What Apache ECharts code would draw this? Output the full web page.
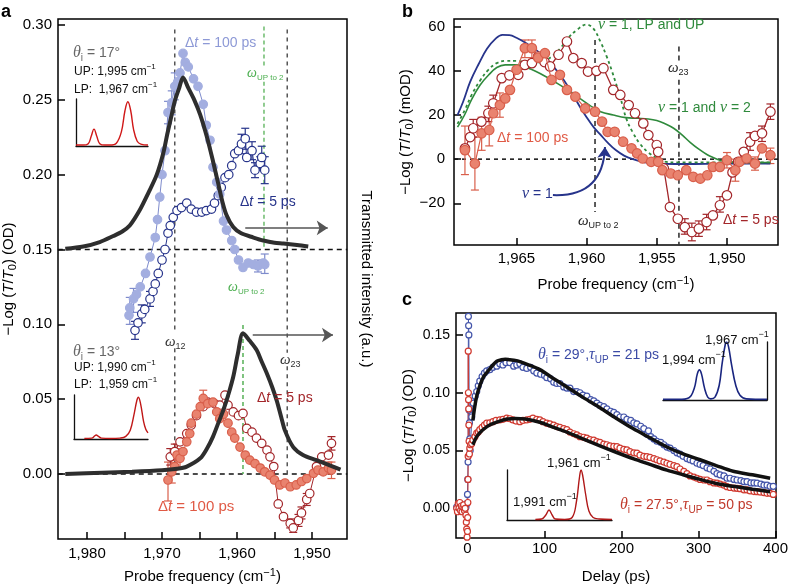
<!DOCTYPE html>
<html><head><meta charset="utf-8">
<script src="https://cdn.jsdelivr.net/npm/echarts@6/dist/echarts.min.js"></script>
<style>html,body{margin:0;padding:0;background:#fff}#c{width:788px;height:584px}</style>
</head><body><div id="c"></div><script>
const F = "'Liberation Sans', Arial, Helvetica, sans-serif";
const FS = "'Liberation Serif', 'DejaVu Serif', serif";

// ---------- Panel a data ----------
const aXTicks = [1950,1955,1960,1965,1970,1975,1980];
const aXLabels = [1950,1960,1970,1980];
const aYTicks = [0,0.05,0.10,0.15,0.20,0.25,0.30];
const aBlackTop = [[1982.9,0.1505],[1980.5,0.152],[1978.3,0.155],[1976.5,0.159],[1975.3,0.162],[1974.3,0.166],[1973,0.176],[1971.8,0.188],[1970.7,0.200],[1969.8,0.215],[1969.3,0.227],[1968.8,0.238],[1968.3,0.249],[1967.7,0.258],[1967.2,0.265],[1966.5,0.258],[1965.7,0.250],[1964.9,0.240],[1964.0,0.225],[1963.2,0.209],[1962.5,0.194],[1962.0,0.183],[1961.4,0.173],[1960.5,0.165],[1959.5,0.161],[1957.8,0.158],[1956.5,0.156],[1955,0.1545],[1953.8,0.154],[1952,0.153],[1950.5,0.152]];
const aBlackBot = [[1982.9,0.0],[1978,0.0008],[1974,0.0015],[1970,0.0025],[1968,0.0035],[1966.7,0.005],[1964.9,0.0105],[1964,0.017],[1963.2,0.025],[1962.5,0.034],[1961.8,0.043],[1961.1,0.054],[1960.5,0.065],[1959.9,0.080],[1959.2,0.094],[1958.3,0.089],[1957.4,0.083],[1956.7,0.075],[1956.0,0.067],[1955.3,0.058],[1954.7,0.049],[1954.1,0.038],[1953.6,0.029],[1952.5,0.018],[1951.2,0.0127],[1949.4,0.0093],[1947.2,0.005],[1946.2,0.003]];
const aBlue100 = [[1974.4,0.106],[1974.3,0.111],[1973.8,0.117],[1973.4,0.120],[1972.9,0.125],[1972.2,0.134],[1971.6,0.145],[1970.9,0.158],[1970.6,0.170],[1970.3,0.185],[1970.0,0.200],[1969.6,0.216],[1969.2,0.2415],[1968.7,0.248],[1968.3,0.259],[1967.9,0.262],[1967.6,0.268],[1967.2,0.281],[1966.9,0.275],[1966.5,0.272],[1965.8,0.264],[1965.2,0.259],[1964.5,0.247],[1964.1,0.233],[1963.6,0.223],[1963.2,0.205],[1962.7,0.195],[1962.3,0.187],[1961.8,0.169],[1961.4,0.163],[1960.7,0.156],[1960.3,0.150],[1959.8,0.143],[1959.2,0.138],[1958.5,0.141],[1957.8,0.140],[1957.2,0.139],[1956.5,0.141],[1956.3,0.140]];
const aBlue5 = [[1973.6,0.096],[1973.2,0.101],[1972.7,0.107],[1972.3,0.110],[1971.6,0.117],[1971.2,0.122],[1970.9,0.127],[1970.5,0.134],[1970.0,0.143],[1969.6,0.150],[1969.2,0.161],[1968.9,0.166],[1968.5,0.1715],[1968.0,0.176],[1967.4,0.178],[1966.7,0.181],[1966.1,0.177],[1965.4,0.175],[1964.7,0.175],[1964.1,0.176],[1963.4,0.177],[1963.0,0.181],[1962.5,0.186],[1962.1,0.1915],[1961.6,0.198],[1961.1,0.200],[1960.7,0.206],[1960.3,0.214],[1959.8,0.216],[1959.4,0.2205],[1958.9,0.224],[1958.7,0.2115],[1958.0,0.216],[1957.6,0.203],[1956.9,0.2075],[1956.7,0.2115],[1956.3,0.203]];
const aRed100 = [[1969.2,-0.004],[1968.7,0.0015],[1968.3,0.005],[1968.0,0.0127],[1967.6,0.0105],[1967.2,0.015],[1966.7,0.0215],[1966.3,0.027],[1966.1,0.034],[1965.4,0.040],[1964.9,0.045],[1964.5,0.0505],[1963.9,0.047],[1963.2,0.048],[1962.7,0.0415],[1962.3,0.037],[1961.8,0.040],[1961.2,0.034],[1960.7,0.028],[1960.3,0.024],[1959.6,0.018],[1958.9,0.0127],[1958.3,0.0093],[1957.6,0.007],[1956.9,0.004],[1956.3,0.0015],[1955.6,-0.0007],[1955.0,-0.004],[1954.3,-0.0073],[1953.6,-0.006],[1952.9,-0.0085],[1952.1,-0.0073],[1951.4,-0.005],[1950.7,-0.003],[1949.8,0.0005],[1949.2,0.0027],[1948.5,0.0015],[1947.8,0.004],[1947.4,0.0027]];
const aRed5 = [[1968.9,0.0115],[1968.3,0.015],[1967.6,0.0215],[1966.7,0.027],[1966.1,0.0327],[1965.4,0.039],[1964.5,0.045],[1963.9,0.048],[1963.0,0.047],[1962.3,0.046],[1961.6,0.0527],[1961.2,0.046],[1960.5,0.0415],[1959.8,0.039],[1959.2,0.0405],[1958.7,0.0305],[1958.0,0.028],[1957.4,0.024],[1956.7,0.0205],[1956.0,0.016],[1955.6,0.0115],[1955.1,0.005],[1954.5,-0.020],[1953.8,-0.0285],[1952.9,-0.033],[1952.5,-0.036],[1951.8,-0.031],[1951.4,-0.026],[1950.7,-0.017],[1950.3,-0.013],[1949.4,0.005],[1948.7,0.0115],[1947.8,0.0127],[1947.4,0.0205]];
const aBlue100Err = [[1974.3,0.100,0.118],[1973.8,0.108,0.124],[1969.2,0.234,0.249],[1968.7,0.240,0.256],[1968.3,0.250,0.268],[1957.2,0.135,0.143],[1956.3,0.134,0.147]];
const aBlue5Err = [[1973.6,0.090,0.102],[1972.7,0.101,0.113],[1971.6,0.112,0.122],[1959.4,0.214,0.227],[1958.9,0.217,0.231],[1958.0,0.210,0.222],[1957.6,0.198,0.208],[1956.9,0.203,0.212],[1956.7,0.204,0.219],[1956.3,0.194,0.212]];
const aRed100Err = [[1969.2,-0.018,0.008],[1968.7,-0.006,0.009],[1968.0,0.004,0.020],[1967.6,0.004,0.017],[1964.5,0.045,0.056],[1947.8,0.000,0.008],[1947.4,-0.003,0.008]];
const aRed5Err = [[1968.9,0.006,0.017],[1968.3,0.010,0.020],[1952.9,-0.036,-0.030],[1952.5,-0.039,-0.033],[1951.8,-0.035,-0.027],[1951.4,-0.030,-0.022],[1950.7,-0.021,-0.013],[1947.4,0.016,0.025]];
const aHLine15 = [[1983.9,0.15],[1945.3,0.15]];
const aHLine0 = [[1983.9,0],[1945.3,0]];
const aOmega12 = [[[1968.3,0.297],[1968.3,0.094]],[[1968.3,0.084],[1968.3,0]]];
const aOmega23 = [[[1953.3,0.297],[1953.3,0.081]],[[1953.3,0.072],[1953.3,0]]];
const aOmegaUPtop = [[[1956.4,0.299],[1956.4,0.271]],[[1956.4,0.262],[1956.4,0.15]]];
const aOmegaUPbot = [[[1959.2,0.0995],[1959.2,0]]];
const aArrowTop = [[1958.9,0.1644],[1947.9,0.1644]];
const aArrowBot = [[1957.9,0.0929],[1947.2,0.0929]];

// ---------- Panel b data ----------
const bXTicks = [1950,1955,1960,1965];
const bYTicks = [-20,0,20,40,60];
const bRed100 = [[1968.67,4.1],[1967.96,-2],[1967.48,11.7],[1966.94,13.2],[1966.65,20.8],[1966.18,24.5],[1965.8,27.5],[1965.46,31.4],[1964.99,40.5],[1964.4,50.3],[1963.9,50.3],[1963.45,46],[1962.97,48],[1962.5,35.9],[1961.9,38.2],[1961.4,31.4],[1960.8,28.3],[1960.1,23],[1959.4,21.5],[1958.9,17],[1958.5,12.4],[1958.0,12.4],[1957.4,7.9],[1956.8,4.9],[1956.4,2.6],[1956.0,0.3],[1955.4,-1.2],[1954.9,-1.2],[1954.6,-5],[1954.0,-6.5],[1953.5,-7.3],[1952.9,-5],[1952.4,-8],[1951.9,-8.8],[1951.4,-7.3],[1951.0,-3.5],[1950.5,-3.5],[1950.0,-0.5],[1949.4,-5],[1949.1,-1.2],[1948.6,0.3],[1948.0,-2],[1947.5,4.9],[1946.9,1.8]];
const bRed5 = [[1968.67,4.9],[1968.3,10],[1968.08,14],[1967.5,17],[1967.0,20.8],[1966.65,25.3],[1966.05,36.7],[1965.5,38],[1964.87,38.2],[1964.4,42.7],[1963.9,43.5],[1963.45,46.5],[1963.0,44],[1962.6,42],[1962.0,47.3],[1961.4,53.3],[1960.95,45.8],[1960.35,43.5],[1959.9,39.7],[1959.3,40],[1958.8,41.2],[1958.1,31.4],[1957.6,29.1],[1957.0,24.5],[1956.55,20.8],[1955.96,16.2],[1955.6,10.9],[1955.0,6.4],[1954.9,3.3],[1954.5,-4.2],[1954.06,-21.7],[1953.5,-27],[1953.0,-30.8],[1952.5,-33],[1952.0,-31.5],[1951.45,-28.5],[1951.0,-25.5],[1950.5,-20.9],[1950.0,-16.4],[1949.6,-6],[1949.2,-1.2],[1948.8,3.3],[1948.35,7.9],[1948.0,10.5],[1947.5,11.7],[1946.9,21.5]];
const bNu1 = [[1969.2,20],[1968.8,26],[1968.3,35],[1967.7,43],[1967.1,50],[1966.5,54.5],[1966.0,56.3],[1965.5,56.2],[1965.0,55],[1964.3,52.5],[1963.6,49.5],[1963.0,46],[1962.3,41.5],[1961.7,36.5],[1961.0,29.5],[1960.5,24],[1960.0,19],[1959.5,14.5],[1959.0,11],[1958.5,7.5],[1957.9,4],[1957.3,1.5],[1956.7,0],[1956.0,-1.2],[1955.25,-2],[1953,-2.2],[1950,-2],[1946.9,-2]];
const bNu12 = [[1969.2,14.5],[1968.7,20],[1968.2,27],[1967.6,33.5],[1967.0,38],[1966.4,41.5],[1965.8,42.7],[1965.0,42.7],[1964.3,41.5],[1963.6,39.7],[1962.8,37],[1962.0,34],[1961.3,31],[1960.6,28],[1959.8,24.5],[1959.0,21.5],[1958.1,20],[1957.2,18.8],[1956.4,18.5],[1955.6,18.2],[1955.0,17.5],[1954.4,16],[1953.8,14],[1953.2,11],[1952.6,7.5],[1952.0,4.5],[1951.4,2],[1950.9,0.5],[1950.5,-0.5],[1950,-1.2],[1948.5,-1.5],[1946.9,-1.5]];
const bNuLPUP = [[1969.2,16],[1968.7,22],[1968.2,29],[1967.6,35.5],[1967.0,40.5],[1966.4,43.5],[1965.8,44.5],[1965.0,44.5],[1964.3,44],[1963.6,43.8],[1963.0,44.5],[1962.4,47],[1961.9,50],[1961.3,55],[1960.7,58.5],[1960.0,61],[1959.5,59],[1959.0,53],[1958.6,47],[1958.2,40],[1957.6,28],[1957.15,18],[1956.7,12],[1956.2,7],[1955.6,3],[1955.0,0.5],[1954.5,-1],[1953.5,-1.5],[1950,-1.5],[1946.9,-1.5]];
const bRed100Err = [[1968.67,-7,15],[1967.96,-14,10],[1967.48,4,19],[1966.94,6,20],[1966.18,19,30],[1964.4,46,54],[1963.9,46,54],[1950.0,-4,3],[1949.4,-10,0],[1948.0,-5,1],[1946.9,-2,5]];
const bRed5Err = [[1968.08,10,18],[1967.0,17,24],[1966.65,21,29],[1953.0,-34,-27],[1952.5,-37,-29],[1952.0,-35,-28],[1951.45,-32,-25],[1950.5,-24,-17],[1948.35,4,12],[1947.5,8,15],[1946.9,18,25]];
const bHLine0 = [[1969.45,0],[1946.36,0]];
const bOmegaUP = [[[1959.4,54],[1959.4,-24]]];
const bOmega23 = [[[1953.42,51],[1953.42,44]],[[1953.42,36],[1953.42,-39]]];
const bArrow = [[1962.4,-16.3],[1958.69,5.5]];

// ---------- Panel c data ----------
const cXTicks = [0,100,200,300,400];
const cYTicks = [0,0.05,0.10,0.15];
const cBlue = [[-14,0.001],[-12,-0.002],[-10,0.001],[-8,0.0],[-6,0.002],[-4,-0.001],[-2,0.001],[-1,0.004],[0,0.012],[0.4,0.025],[0.8,0.04],[1.2,0.166],[1.5,0.158],[1.8,0.150],[2.2,0.085],[2.6,0.074],[3,0.060],[3.5,0.050],[4.2,0.058],[5.5,0.079],[7.5,0.091],[10,0.097],[12,0.101],[14,0.106],[16,0.110],[19,0.114],[22,0.117],[25,0.119],[29,0.120],[33,0.122],[38,0.123],[42,0.125],[46,0.124],[50,0.126],[55,0.126],[60,0.123],[64,0.124],[68,0.125],[72,0.122],[77,0.121],[82,0.122],[86,0.119],[90,0.117],[95,0.116],[100,0.115],[103,0.113],[108,0.112],[112,0.109],[116,0.108],[120,0.108],[125,0.105],[129,0.104],[133,0.104],[138,0.101],[142,0.101],[146,0.100],[150,0.098],[155,0.097],[160,0.094],[164,0.093],[168,0.091],[172,0.089],[177,0.088],[181,0.086],[186,0.084],[190,0.083],[194,0.081],[198,0.079],[203,0.079],[207,0.077],[212,0.076],[216,0.074],[220,0.073],[225,0.071],[229,0.069],[233,0.064],[235,0.067],[238,0.062],[242,0.060],[246,0.058],[251,0.057],[255,0.055],[259,0.053],[263,0.052],[268,0.050],[272,0.048],[276,0.047],[280,0.045],[285,0.043],[289,0.042],[293,0.041],[298,0.039],[302,0.038],[306,0.037],[311,0.035],[315,0.034],[320,0.032],[324,0.030],[328,0.029],[333,0.028],[337,0.026],[341,0.026],[346,0.025],[350,0.0245],[355,0.024],[359,0.023],[363,0.023],[368,0.022],[372,0.022],[376,0.0217],[381,0.021],[385,0.020],[389,0.020],[393,0.019],[397,0.019]];
const cRed = [[-14,0.0],[-13,-0.003],[-12,0.004],[-11,0.0],[-10,0.005],[-9,-0.002],[-8,0.002],[-7,-0.003],[-6,0.001],[-5,0.003],[-4,-0.002],[-3,0.0],[-2,-0.006],[-1.5,-0.012],[-1,-0.018],[-0.5,-0.025],[0,-0.02],[0.3,-0.008],[0.5,0.005],[0.7,0.025],[0.9,0.045],[1.0,0.136],[1.2,0.100],[1.4,0.094],[1.6,0.086],[1.8,0.072],[2.1,0.058],[2.5,0.047],[3,0.052],[4,0.055],[5.5,0.056],[7,0.059],[9.7,0.062],[12,0.065],[14,0.066],[16,0.068],[19,0.070],[22,0.072],[25,0.0737],[29,0.074],[33,0.075],[37,0.076],[42,0.0765],[46,0.077],[51,0.078],[55,0.0775],[59,0.0765],[63,0.0755],[68,0.075],[72,0.076],[77,0.0765],[81,0.077],[85,0.078],[90,0.077],[94,0.0765],[98,0.075],[103,0.0737],[107,0.073],[112,0.072],[116,0.0707],[120,0.070],[125,0.069],[129,0.068],[133,0.066],[138,0.0645],[142,0.0635],[146,0.062],[151,0.0615],[155,0.0607],[159,0.0595],[164,0.059],[168,0.0577],[172,0.057],[177,0.0555],[181,0.055],[185,0.054],[190,0.0535],[194,0.0534],[198,0.052],[203,0.051],[207,0.0505],[211,0.049],[216,0.048],[220,0.0477],[224,0.046],[229,0.045],[233,0.0447],[237,0.044],[242,0.043],[246,0.042],[250,0.041],[255,0.040],[259,0.039],[263,0.038],[268,0.037],[272,0.036],[276,0.034],[281,0.032],[285,0.030],[289,0.028],[294,0.027],[298,0.026],[302,0.025],[307,0.0245],[311,0.0245],[315,0.023],[320,0.022],[324,0.0217],[328,0.021],[333,0.020],[337,0.0187],[341,0.018],[346,0.0175],[350,0.0173],[354,0.017],[359,0.016],[363,0.0159],[367,0.015],[372,0.0145],[376,0.0144],[380,0.014],[385,0.0135],[389,0.013],[393,0.013],[397,0.012]];
const cFitBlue = [[7,0.076],[9,0.086],[12,0.097],[16,0.106],[21,0.114],[27,0.119],[33,0.124],[38,0.1272],[44,0.1285],[49,0.129],[55,0.1285],[62,0.128],[68,0.127],[80,0.124],[94,0.120],[110,0.113],[129,0.105],[150,0.096],[172,0.087],[193,0.078],[215,0.069],[237,0.061],[259,0.053],[280,0.047],[302,0.042],[323,0.037],[345,0.032],[370,0.029],[393,0.026]];
const cFitRed = [[7,0.055],[12,0.062],[20,0.068],[30,0.0725],[42,0.0755],[52,0.0772],[62,0.0778],[75,0.0772],[94,0.0745],[110,0.0705],[129,0.066],[150,0.060],[172,0.054],[193,0.0485],[215,0.043],[237,0.038],[259,0.033],[280,0.029],[302,0.025],[323,0.0215],[345,0.019],[370,0.0165],[393,0.0144]];

// ---------- Inset spectra (normalized) ----------
const insA1 = [[0,0.02],[10,0.02],[17,0.05],[21,0.2],[25,0.36],[29,0.2],[33,0.05],[40,0.02],[47,0.02],[56,0.06],[63,0.3],[68,0.75],[72,0.94],[76,0.75],[80,0.35],[85,0.1],[90,0.04],[100,0.02]];
const insA2 = [[14,0.01],[24,0.02],[28,0.07],[30,0.09],[33,0.06],[37,0.02],[50,0.01],[62,0.02],[70,0.06],[76,0.2],[81,0.55],[85,0.88],[87,0.95],[90,0.8],[94,0.4],[97,0.22],[100,0.14]];
const insC1 = [[0,0.01],[15,0.01],[25,0.04],[30,0.2],[33,0.45],[35,0.52],[37,0.45],[40,0.2],[43,0.05],[46,0.02],[50,0.05],[54,0.25],[57,0.65],[60,0.97],[61,1.0],[63,0.92],[66,0.6],[70,0.25],[74,0.08],[80,0.02],[100,0.01]];
const insC2 = [[27,0.01],[33,0.02],[37,0.1],[40,0.2],[43,0.1],[46,0.02],[55,0.01],[62,0.05],[66,0.35],[69,0.85],[70.5,1.0],[72,0.9],[75,0.5],[78,0.18],[82,0.05],[88,0.02],[100,0.01]];

// ---------- colours ----------
const C = {blueLF:'#a3aee0', blueLE:'#7e8bcc', blueD:'#27348b', redF:'#e9836f', redE:'#d95f4b', redD:'#a3262a',
  blk:'#2e2e2e', green:'#2f8a3c', greenL:'#55b055', gray:'#555'};

const comma = v => { const s = String(Math.round(v)); return s.length>3 ? s.slice(0,-3)+','+s.slice(-3) : s; };
const minus = v => v<0 ? '\u2212'+Math.abs(v) : String(v);

function nameStyle(size){
  return {fontSize:size, fontFamily:F, color:'#000', lineHeight:size+4, rich:{
    i:{fontSize:size, fontFamily:F, fontStyle:'italic', color:'#000'},
    sub:{fontSize:Math.round(size*0.7), fontFamily:F, color:'#000', verticalAlign:'bottom', lineHeight:Math.round(size*0.7)},
    sup:{fontSize:Math.round(size*0.7), fontFamily:F, color:'#000', verticalAlign:'top', lineHeight:Math.round(size*0.7)}
  }};
}
function xAx(gi,min,max,ticks,labels,fmt,inverse,name,gap,margin,fs){
  return {type:'value',gridIndex:gi,min,max,inverse,position:'bottom',
    axisLine:{show:false,onZero:false},splitLine:{show:false},
    axisTick:{show:true,inside:true,length:7,customValues:ticks,lineStyle:{color:'#000',width:1.5}},
    axisLabel:{show:true,customValues:labels,formatter:fmt,fontSize:fs,fontFamily:F,color:'#000',margin},
    name,nameLocation:'middle',nameGap:gap,nameTextStyle:nameStyle(15)};
}
function yAx(gi,min,max,ticks,fmt,name,gap,margin,fs){
  return {type:'value',gridIndex:gi,min,max,position:'left',
    axisLine:{show:false,onZero:false},splitLine:{show:false},
    axisTick:{show:true,inside:true,length:7,customValues:ticks,lineStyle:{color:'#000',width:1.5}},
    axisLabel:{show:true,customValues:ticks,formatter:fmt,fontSize:fs,fontFamily:F,color:'#000',margin},
    name,nameLocation:'middle',nameGap:gap,nameRotate:90,nameTextStyle:nameStyle(15)};
}
function insX(gi){return {type:'value',gridIndex:gi,min:0,max:100,position:'bottom',axisLine:{show:true,onZero:false,lineStyle:{color:'#111',width:1.3}},axisTick:{show:false},axisLabel:{show:false},splitLine:{show:false}};}
function insY(gi,pos){return {type:'value',gridIndex:gi,min:0,max:1,position:pos,offset:0,axisLine:{show:true,onZero:false,lineStyle:{color:'#111',width:1.3}},axisTick:{show:false},axisLabel:{show:false},splitLine:{show:false}};}

const series = [];
function seg(xi,yi,data,color,width,dash,z){series.push({type:'line',xAxisIndex:xi,yAxisIndex:yi,data,symbol:'none',silent:true,lineStyle:{color,width,type:dash},z:z||1});}
function curve(xi,yi,data,color,width,dash,smooth,z){series.push({type:'line',xAxisIndex:xi,yAxisIndex:yi,data,symbol:'none',smooth:smooth,silent:true,lineStyle:{color,width,type:dash||'solid'},z:z||2});}
function pts(xi,yi,data,fill,edge,line,size,lw,z){series.push({type:'line',xAxisIndex:xi,yAxisIndex:yi,data,symbol:'circle',symbolSize:size,showAllSymbol:true,
  itemStyle:{color:fill,borderColor:edge,borderWidth:1.2,opacity:1},lineStyle:{color:line,width:lw},z:z||3,silent:true});}
function err(xi,yi,data,color,z){series.push({type:'custom',xAxisIndex:xi,yAxisIndex:yi,data,z:z||2,silent:true,
  renderItem:(p,api)=>{const x=api.value(0),lo=api.value(1),hi=api.value(2);const a=api.coord([x,lo]),b=api.coord([x,hi]);const w=4;
    const st={stroke:color,lineWidth:1.2};
    return {type:'group',children:[{type:'line',shape:{x1:a[0],y1:a[1],x2:b[0],y2:b[1]},style:st},
      {type:'line',shape:{x1:a[0]-w,y1:a[1],x2:a[0]+w,y2:a[1]},style:st},{type:'line',shape:{x1:b[0]-w,y1:b[1],x2:b[0]+w,y2:b[1]},style:st}]};}});}
function arrow(xi,yi,pair,color,width,curv){series.push({type:'lines',coordinateSystem:'cartesian2d',xAxisIndex:xi,yAxisIndex:yi,
  symbol:['none','arrow'],symbolSize:[0,11],silent:true,z:5,lineStyle:{color,width,curveness:curv,opacity:1},data:[{coords:pair}]});}

// panel a
seg(0,0,aHLine15,'#111',1.5,[5,4]);
seg(0,0,aHLine0,'#111',1.5,[5,4]);
aOmega12.forEach(s=>seg(0,0,s,'#555',1.5,[4,4]));
aOmega23.forEach(s=>seg(0,0,s,'#555',1.5,[4,4]));
aOmegaUPtop.forEach(s=>seg(0,0,s,C.greenL,1.3,[4,3]));
aOmegaUPbot.forEach(s=>seg(0,0,s,C.greenL,1.5,[4,3]));
err(0,0,aBlue100Err,C.blueLE); err(0,0,aBlue5Err,C.blueD);
err(0,0,aRed100Err,C.redE); err(0,0,aRed5Err,C.redD);
pts(0,0,aBlue5,'#fff',C.blueD,C.blueD,8.5,1,3);
pts(0,0,aBlue100,C.blueLF,C.blueLF,C.blueLE,8.5,1,3);
pts(0,0,aRed5,'#fff',C.redD,C.redD,8.5,1,3);
pts(0,0,aRed100,C.redF,C.redE,C.redE,8.5,1,3);
curve(0,0,aBlackTop,C.blk,4,'solid',0.3,4);
curve(0,0,aBlackBot,C.blk,4,'solid',0.3,4);
arrow(0,0,aArrowTop,'#555',1.5,0);
arrow(0,0,aArrowBot,'#555',1.5,0);
// panel b
seg(1,1,bHLine0,'#111',1.5,[4,4]);
bOmegaUP.forEach(s=>seg(1,1,s,'#333',1.6,[5,4]));
bOmega23.forEach(s=>seg(1,1,s,'#333',1.6,[5,4]));
curve(1,1,bNu1,C.blueD,1.8,'solid',0.4,2);
curve(1,1,bNu12,C.green,1.6,'solid',0.4,2);
curve(1,1,bNuLPUP,C.green,1.8,[3,3],0.4,2);
err(1,1,bRed100Err,C.redE); err(1,1,bRed5Err,C.redD);
pts(1,1,bRed5,'#fff',C.redD,C.redD,9.5,1.3,3);
pts(1,1,bRed100,C.redF,C.redE,C.redE,9.5,1.2,4);
arrow(1,1,bArrow,C.blueD,2,-0.5);
// panel c
pts(2,2,cBlue,'#fff','#4455aa','#4455aa',6,1,3);
pts(2,2,cRed,'#fff','#d03a30','#d03a30',6,1,3);
curve(2,2,cFitBlue,'#111',3.5,'solid',0.3,4);
curve(2,2,cFitRed,'#111',3.5,'solid',0.3,4);
// insets
curve(3,3,insA1,'#d01818',1.4,'solid',0.4,5);
curve(4,4,insA2,'#c01818',1.4,'solid',0.4,5);
curve(5,5,insC1,'#1a2680',1.6,'solid',0.4,5);
curve(6,6,insC2,'#b01818',1.4,'solid',0.4,5);

function rich(size,color){
  const s=Math.round(size*0.7);
  return {
    i:{fontFamily:FS,fontStyle:'italic',fontSize:size+2,fill:color,color:color},
    it:{fontFamily:F,fontStyle:'italic',fontSize:size,fill:color,color:color},
    sub:{fontFamily:F,fontSize:s,fill:color,color:color,verticalAlign:'bottom',lineHeight:s},
    sup:{fontFamily:F,fontSize:s,fill:color,color:color,verticalAlign:'top',lineHeight:s},
    n:{fontFamily:F,fontSize:size,fill:color,color:color}
  };
}
function T(x,y,text,size,color,extra){
  return Object.assign({type:'text',x,y,z:100,silent:true,style:{text,fill:color,fontSize:size,fontFamily:F,
    align:'left',verticalAlign:'middle',textAlign:'left',textVerticalAlign:'middle',lineHeight:size+6,rich:rich(size,color)}},extra||{});
}
function B(x,y,t){return {type:'text',x,y,z:100,silent:true,style:{text:t,fill:'#000',font:"bold 18px "+F,verticalAlign:'middle',textVerticalAlign:'middle'}};}
const g = [
  B(1,12,'a'), B(402,12,'b'), B(402,300,'c'),
  // panel a
  T(73,53,'{i|θ}{sub|i} = 17°',14,'#666'),
  T(74,72,'UP: 1,995 cm{sup|\u22121}',12,'#111'),
  T(74,90,'LP:  1,967 cm{sup|\u22121}',12,'#111'),
  T(185,43,'Δ{it|t} = 100 ps',14,'#8d99d6'),
  T(247,73,'{i|ω}{sub|UP to 2}',12,'#4caf50'),
  T(240,202,'Δ{it|t} = 5 ps',14,C.blueD),
  T(228,287,'{i|ω}{sub|UP to 2}',12,'#4caf50'),
  T(165,342,'{i|ω}{sub|12}',13,'#333'),
  T(280,360,'{i|ω}{sub|23}',13,'#333'),
  T(73,352,'{i|θ}{sub|i} = 13°',14,'#666'),
  T(74,368,'UP: 1,990 cm{sup|\u22121}',12,'#111'),
  T(74,385,'LP:  1,959 cm{sup|\u22121}',12,'#111'),
  T(257,398,'Δ{it|t} = 5 ps',14,C.redD),
  T(158,507,'Δ{it|t} = 100 ps',15,'#e05a45'),
  // panel b
  T(598,25,'{i|ν} = 1, LP and UP',14,C.green),
  T(658,108,'{i|ν} = 1 and {i|ν} = 2',14,C.green),
  T(497,138,'Δ{it|t} = 100 ps',14,'#e05a45'),
  T(522,194,'{i|ν} = 1',14,C.blueD),
  T(723,220,'Δ{it|t} = 5 ps',14,C.redD),
  T(578,221,'{i|ω}{sub|UP to 2}',13,'#222'),
  T(668,68,'{i|ω}{sub|23}',13,'#222'),
  // panel c
  T(538,355,'{i|θ}{sub|i} = 29°,{i|τ}{sub|UP} = 21 ps',14,'#3b4aa5'),
  T(620,505,'{i|θ}{sub|i} = 27.5°,{i|τ}{sub|UP} = 50 ps',14,'#c0392b'),
  T(705,340,'1,967 cm{sup|\u22121}',13,'#111'),
  T(662,360,'1,994 cm{sup|\u22121}',13,'#111'),
  T(547,463,'1,961 cm{sup|\u22121}',13,'#111'),
  T(513,502,'1,991 cm{sup|\u22121}',13,'#111')
];

const OB = {outerBoundsMode:'none', containLabel:false};
const grids = [
  Object.assign({left:58,top:19,width:289,height:520,show:true,borderColor:'#000',borderWidth:1.5},OB),
  Object.assign({left:454,top:19,width:324,height:226,show:true,borderColor:'#000',borderWidth:1.5},OB),
  Object.assign({left:456,top:313,width:320,height:225,show:true,borderColor:'#000',borderWidth:1.5},OB),
  Object.assign({left:76,top:99,width:72,height:47},OB),
  Object.assign({left:74,top:395,width:74,height:44},OB),
  Object.assign({left:663,top:342,width:104,height:58},OB),
  Object.assign({left:507,top:470,width:105,height:50},OB)
];
const yNameA = '\u2212Log ({i|T}/{i|T}{sub|0}) (OD)';
const yNameB = '\u2212Log ({i|T}/{i|T}{sub|0}) (mOD)';
const xNameF = 'Probe frequency (cm{sup|\u22121})';
const xAxes = [
  xAx(0,1945.33,1983.87,aXTicks,aXLabels,comma,true,xNameF,28,7,15),
  xAx(1,1946.36,1969.45,bXTicks,bXTicks,comma,true,xNameF,30,6,15),
  xAx(2,-14.9,400.6,cXTicks,cXTicks,v=>String(v),false,'Delay (ps)',29,3,15),
  insX(3),insX(4),insX(5),insX(6)
];
const yAxes = [
  yAx(0,-0.0434,0.304,aYTicks,v=>v.toFixed(2),yNameA,40,6,15),
  yAx(1,-38.9,63.5,bYTicks,minus,yNameB,34,9,15),
  yAx(2,-0.0257,0.169,cYTicks,v=>v.toFixed(2),yNameA,37,6,14),
  insY(3,'left'),insY(4,'left'),insY(5,'right'),insY(6,'left'),
  {type:'value',gridIndex:0,position:'right',min:0,max:1,axisLine:{show:false,onZero:false},axisTick:{show:false},axisLabel:{show:false},splitLine:{show:false},
   name:'Transmitted intensity (a.u.)',nameLocation:'middle',nameRotate:-90,nameGap:12,nameTextStyle:{fontSize:15,fontFamily:F,color:'#000'}}
];
const chart = echarts.init(document.getElementById('c'),null,{renderer:'canvas'});
chart.setOption({animation:false,textStyle:{fontFamily:F},grid:grids,xAxis:xAxes,yAxis:yAxes,series,graphic:g});
</script></body></html>
